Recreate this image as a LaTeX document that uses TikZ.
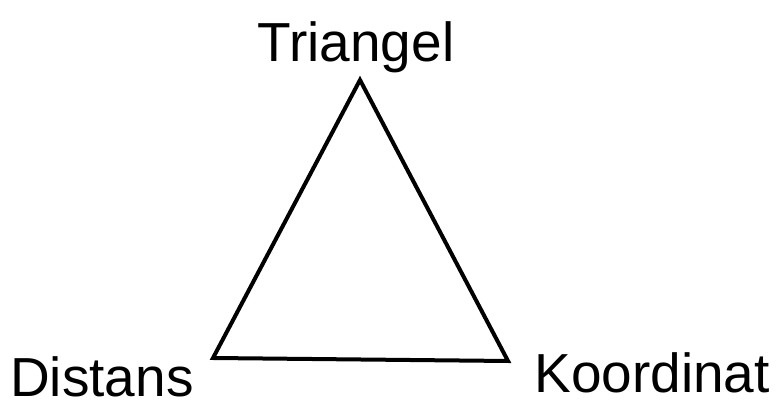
\documentclass[tikz,border=0pt]{standalone}
\usepackage{fontspec}
\setmainfont{Liberation Sans}
\begin{document}
\begin{tikzpicture}[x=1pt,y=1pt,
  lbl/.style={inner sep=0pt, font=\fontsize{55}{66}\selectfont}]

  \useasboundingbox (0,0) rectangle (776,403);

  % corners of the triangle
  \coordinate (top) at (360,323);
  \coordinate (left) at (213,45);
  \coordinate (right) at (508,42);

  % triangle
  \draw[line width=4pt] (top) -- (right) -- (left) -- cycle;

  % labels
  \node[lbl, anchor=base]      (triangel)  at (356,341) {Triangel};
  \node[lbl, anchor=base west] (distans)   at (10,6)    {Distans};
  \node[lbl, anchor=base east] (koordinat) at (770,10)  {Koordinat};
\end{tikzpicture}
\end{document}
